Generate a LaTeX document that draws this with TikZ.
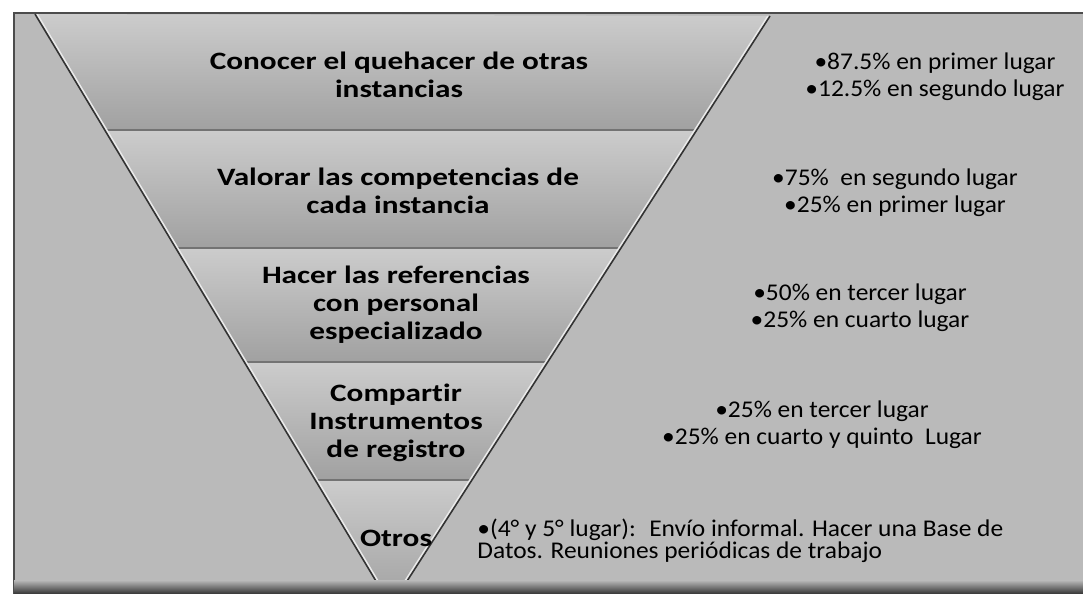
\documentclass[tikz,border=0pt]{standalone}
\usepackage{fontspec}
\setmainfont{Carlito}[Ligatures=NoCommon]
\newfontfamily\bandfont{Carlito}[FakeStretch=1.25, Ligatures=NoCommon]
\newfontfamily\notefont{Carlito}[FakeStretch=1.06, Ligatures=NoCommon]
\definecolor{paper}{gray}{0.73}
\definecolor{bandtop}{gray}{0.80}
\definecolor{bandbot}{gray}{0.63}

\begin{document}
\begin{tikzpicture}[x=0.5pt,y=-0.5pt,
    band/.style={font=\bandfont\bfseries\fontsize{12.5}{14}\selectfont, align=center, inner sep=0pt},
    note/.style={font=\notefont\fontsize{12}{13.5}\selectfont, align=center, inner sep=0pt},
    edge/.style={draw=black!80, line width=0.8pt},
    sep/.style={draw=black!55, line width=0.7pt}]
  \useasboundingbox (0,0) rectangle (1083,594);
  % scanned sheet
  \fill[paper] (14,13) rectangle (1083,594);
  \draw[black!70, line width=0.6pt] (1083,13) -- (14,13) -- (14,594);

  % funnel
  \coordinate (tl) at (35,14);
  \coordinate (tr) at (770,16);
  \coordinate (apex) at (391,606);
  \begin{scope}
    \clip (tl) -- (tr) -- (apex) -- cycle;
    \shade[top color=bandtop, bottom color=bandbot] (14,14) rectangle (1083,130);
    \shade[top color=bandtop, bottom color=bandbot] (14,130) rectangle (1083,248);
    \shade[top color=bandtop, bottom color=bandbot] (14,248) rectangle (1083,362);
    \shade[top color=bandtop, bottom color=bandbot] (14,362) rectangle (1083,480);
    \shade[top color=bandtop, bottom color=bandbot] (14,480) rectangle (1083,606);
    \draw[sep] (14,130) -- (1083,130);
    \draw[sep] (14,248) -- (1083,248);
    \draw[sep] (14,362) -- (1083,362);
    \draw[sep] (14,480) -- (1083,480);
    \draw[white!70!paper, line width=2.5pt] (tl) -- (apex) -- (tr);
  \end{scope}
  \draw[edge] (tl) -- (apex) -- (tr);

  % bottom shadow of the scan
  \shade[top color=paper, bottom color=black!80] (14,580) rectangle (1083,594);

  % levels
  \node[band] (conocer) at (399,75) {Conocer el quehacer de otras\\instancias};
  \node[band] (valorar) at (398,191) {Valorar las competencias de\\cada instancia};
  \node[band] (hacer) at (396,305) {Hacer las referencias\\con personal\\especializado};
  \node[band] (compartir) at (396,423) {Compartir\\Instrumentos\\de registro};
  \node[band] (otros) at (396,538) {Otros};

  % percentages
  \node[note] (n1) at (935,77) {•87.5\% en primer lugar\\•12.5\% en segundo lugar};
  \node[note] (n2) at (895,193) {•75\%~ en segundo lugar\\•25\% en primer lugar};
  \node[note] (n3) at (860,308) {•50\% en tercer lugar\\•25\% en cuarto lugar};
  \node[note] (n4) at (822,425) {•25\% en tercer lugar\\•25\% en cuarto y quinto~ Lugar};
  \node[note, align=left, anchor=west, font=\notefont\fontsize{12}{11}\selectfont] (n5) at (477,541)
    {•(4° y 5° lugar):~ Envío informal. Hacer una Base de\\Datos. Reuniones periódicas de trabajo};
\end{tikzpicture}
\end{document}
